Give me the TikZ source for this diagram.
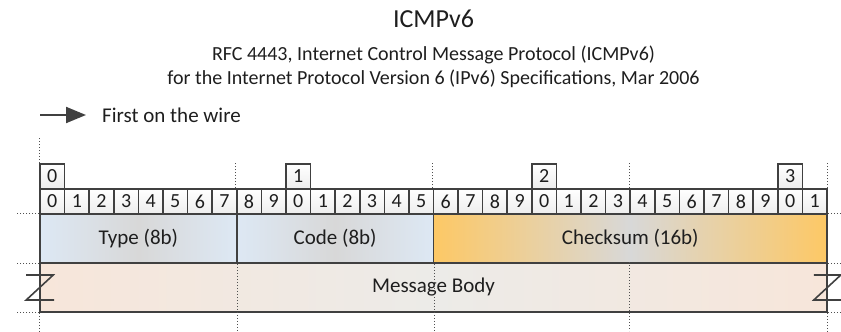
\documentclass[tikz,border=0pt]{standalone}
\usepackage{fontspec}
\setmainfont{Carlito}
\usetikzlibrary{arrows.meta,calc}
\definecolor{edge}{HTML}{404040}
\definecolor{txt}{HTML}{1E1E1E}
\definecolor{guidec}{HTML}{505050}
\definecolor{blueend}{HTML}{DDE8F4}
\definecolor{midgray}{HTML}{D8D8D8}
\definecolor{orangeend}{HTML}{FDC865}
\definecolor{peachend}{HTML}{F7E6DA}
\definecolor{bodymid}{HTML}{ECEBE8}
\begin{document}
\begin{tikzpicture}[x=1pt,y=-1pt,
  every node/.style={text=txt},
  bitcell/.style={draw=edge,line width=1.6pt,top color=white,bottom color=gray!14,
    minimum width=24.594pt,minimum height=25pt,inner sep=0pt,font=\fontsize{20}{22}\selectfont},
  field/.style={draw=edge,line width=1.6pt,minimum height=49pt,inner sep=0pt,
    font=\fontsize{21}{24}\selectfont},
  guide/.style={guidec,line width=1pt,dash pattern=on 1pt off 2pt},
  zmark/.style={edge,line width=1.6pt},
  wirearrow/.style={edge,line width=2pt,-{Triangle[length=20pt,width=16pt]}}
]
\useasboundingbox (0,0) rectangle (841,332);

% titles
\node (title) at (433.5,19) {\fontsize{26}{30}\selectfont ICMPv6};
\node (sub1) at (433.5,55) {\fontsize{20}{24}\selectfont RFC 4443, Internet Control Message Protocol (ICMPv6)};
\node (sub2) at (433.5,79) {\fontsize{20}{24}\selectfont for the Internet Protocol Version 6 (IPv6) Specifications, Mar 2006};

% first on the wire
\coordinate (a0) at (40,115);
\coordinate (a1) at (86,115);
\node[anchor=west,inner sep=0pt] (fw) at (102,115) {\fontsize{21}{24}\selectfont First on the wire};
\draw[wirearrow] (a0) -- (a1);

% fields
\node[field,minimum width=196.75pt,left color=blueend,right color=blueend,middle color=midgray]
  (type) at (138.375,238.5) {Type (8b)};
\node[field,minimum width=196.75pt,left color=blueend,right color=blueend,middle color=midgray]
  (code) at (335.125,238.5) {Code (8b)};
\node[field,minimum width=393.5pt,left color=orangeend,right color=orangeend,middle color=midgray]
  (cks) at (630.25,238.5) {Checksum (16b)};
\node[field,minimum width=787pt,left color=peachend,right color=peachend,middle color=bodymid]
  (mb) at (433.5,287.5) {Message Body};

% bit cells
\foreach \i in {0,...,31}{
  \pgfmathtruncatemacro\d{mod(\i,10)}
  \node[bitcell] (b\i) at ({40+24.59375*\i+12.297},201.5) {\d};
}
% tens boxes
\foreach \t/\i in {0/0,1/10,2/20,3/30}{
  \node[bitcell] (t\t) at ({40+24.59375*\i+12.297},176.5) {\t};
}

% guide lines above
\draw[guide] (t0.north west) -- ++(0,-26);
\draw[guide] (b8.north west) -- ++(0,-26);
\draw[guide] (b16.north west) -- ++(0,-26);
\draw[guide] (b24.north west) -- ++(0,-26);
\draw[guide] (b31.north east) -- ++(0,-26);

% guide lines below / through body
\draw[guide] (type.south east) -- ++(0,69);
\draw[guide] (code.south east) -- ++(0,69);
\draw[guide] (b24.west |- mb.north) -- ++(0,69);
\draw[guide] (mb.south west) -- ++(0,20);
\draw[guide] (mb.south east) -- ++(0,20);

% horizontal guides
\draw[guide] (type.north west) -- ++(-23,0);
\draw[guide] (type.south west) -- ++(-23,0);
\draw[guide] (mb.south west) -- ++(-23,0);
\draw[guide] (cks.north east) -- ++(14,0);
\draw[guide] (cks.south east) -- ++(14,0);
\draw[guide] (mb.south east) -- ++(14,0);

% break marks
\draw[zmark] (mb.west) ++(-13,-12.5) -- ++(27,0) -- ++(-27,25) -- ++(28,0);
\draw[zmark] (mb.east) ++(-14,-12.5) -- ++(27,0) -- ++(-27,25) -- ++(28,0);
\end{tikzpicture}
\end{document}
